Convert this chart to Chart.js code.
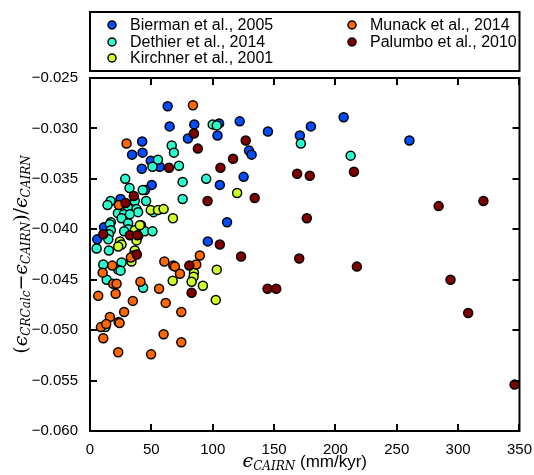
<!DOCTYPE html>
<html>
<head>
<meta charset="utf-8">
<script src="https://cdn.jsdelivr.net/npm/chart.js@4.4.1/dist/chart.umd.min.js"></script>
<style>
  html, body { margin: 0; padding: 0; background: #fff; }
  #wrap { width: 534px; height: 475px; }
</style>
</head>
<body>
<div id="wrap"><canvas id="chart" width="534" height="475"></canvas></div>
<script>
/* Values: erosion rate (mm/kyr) and relative difference. */
const biermanX = [63.3, 64.9, 85.0, 105.2, 122.0, 103.9, 79.8, 42.5, 34.3, 42.8, 129.6, 131.7, 49.5, 42.2,
  56.8, 125.2, 50.3, 44.9, 105.8, 24.9, 11.4, 5.9, 111.7, 96.0, 145.0, 171.0, 180.0, 206.7, 260.3]
const biermanY = [-0.0278, -0.0298, -0.0296, -0.0295, -0.0293, -0.0307, -0.0310, -0.0313, -0.0326, -0.0324,
  -0.0322, -0.0326, -0.0332, -0.0340, -0.0338, -0.0348, -0.0356, -0.0361, -0.0356, -0.0370, -0.0398, -0.0410,
  -0.0393, -0.0412, -0.0303, -0.0307, -0.0298, -0.0289, -0.0312]

const dethierX = [100.0, 103.3, 66.6, 68.4, 55.4, 50.9, 72.5, 28.7, 75.5, 94.7, 32.2, 43.0, 75.5, 45.7, 16.8,
  36.5, 14.3, 171.8, 212.4, 25.2, 31.1, 37.9, 39.2, 22.7, 27.6, 32.5, 25.7, 51.7, 17.0, 16.2, 31.1, 41.6,
  31.1, 27.8, 17.0, 15.4, 14.9, 44.6, 50.9, 5.4, 15.4, 10.8, 25.7, 23.0, 24.9, 13.6, 43.3, 12.5]
const dethierY = [-0.0296, -0.0297, -0.0317, -0.0324, -0.0331, -0.0338, -0.0337, -0.0350, -0.0353, -0.0350,
  -0.0359, -0.0361, -0.0370, -0.0372, -0.0372, -0.0372, -0.0376, -0.0315, -0.0327, -0.0380, -0.0379, -0.0380,
  -0.0383, -0.0384, -0.0385, -0.0385, -0.0389, -0.0383, -0.0393, -0.0395, -0.0394, -0.0396, -0.0400, -0.0402,
  -0.0401, -0.0405, -0.0410, -0.0402, -0.0402, -0.0419, -0.0421, -0.0435, -0.0433, -0.0440, -0.0441, -0.0450,
  -0.0458, -0.0497]

const kirchnerX = [119.9, 49.5, 55.4, 60.0, 67.6, 36.5, 24.4, 25.7, 23.0, 39.2, 37.9, 36.5, 35.2, 33.8, 40.6,
  103.3, 84.7, 84.4, 82.8, 67.4, 92.0, 102.5]
const kirchnerY = [-0.0364, -0.0381, -0.0381, -0.0380, -0.0389, -0.0401, -0.0412, -0.0415, -0.0417, -0.0407,
  -0.0411, -0.0421, -0.0426, -0.0432, -0.0396, -0.0440, -0.0443, -0.0447, -0.0452, -0.0451, -0.0456, -0.0470]

const munackX = [83.9, 29.8, 23.5, 89.5, 60.6, 67.9, 69.2, 86.6, 73.3, 33.3, 18.1, 10.3, 18.9, 21.7, 41.1,
  56.3, 6.7, 20.9, 34.9, 61.7, 27.8, 16.2, 74.4, 8.9, 13.2, 23.3, 24.1, 10.8, 23.0, 49.8, 60.0, 74.4]
const munackY = [-0.0277, -0.0315, -0.0376, -0.0426, -0.0432, -0.0436, -0.0437, -0.0435, -0.0444, -0.0428,
  -0.0436, -0.0443, -0.0454, -0.0454, -0.0452, -0.0459, -0.0466, -0.0464, -0.0471, -0.0473, -0.0482, -0.0487,
  -0.0482, -0.0497, -0.0494, -0.0492, -0.0493, -0.0508, -0.0522, -0.0524, -0.0504, -0.0512]

const palumboX = [84.7, 126.9, 87.9, 116.6, 64.4, 106.3, 134.2, 35.7, 95.8, 29.0, 10.8, 32.5, 38.7, 38.2,
  105.8, 123.1, 80.9, 82.8, 168.8, 179.1, 215.1, 176.7, 170.5, 217.5, 144.7, 151.8, 284.1, 320.6, 293.8,
  308.2, 346.0]
const palumboY = [-0.0305, -0.0312, -0.0320, -0.0330, -0.0339, -0.0339, -0.0369, -0.0367, -0.0372, -0.0374,
  -0.0405, -0.0406, -0.0406, -0.0425, -0.0415, -0.0427, -0.0436, -0.0463, -0.0345, -0.0347, -0.0343, -0.0389,
  -0.0429, -0.0437, -0.0459, -0.0459, -0.0377, -0.0372, -0.0450, -0.0483, -0.0554]

const seriesNames = ["Bierman et al., 2005", "Dethier et al., 2014", "Kirchner et al., 2001",
  "Munack et al., 2014", "Palumbo et al., 2010"]
const seriesColors = ["rgb(0, 77, 255)", "rgb(41, 255, 206)", "rgb(206, 255, 41)",
  "rgb(255, 104, 0)", "rgb(128, 0, 0)"]

const xTicks = [0, 50, 100, 150, 200, 250, 300, 350]
const yTicks = [-0.060, -0.055, -0.050, -0.045, -0.040, -0.035, -0.030, -0.025]

const toPoints = (xs, ys) => xs.map((x, i) => ({ x: x, y: ys[i] }))
const allX = [biermanX, dethierX, kirchnerX, munackX, palumboX]
const allY = [biermanY, dethierY, kirchnerY, munackY, palumboY]

const sansFont = "'Liberation Sans', Arial, sans-serif"
const serifFont = "'DejaVu Serif', serif"

/* Draw a line of mixed-font text centred on (cx, cy), optionally rotated. */
const drawRich = (ctx, parts, cx, cy, rotate) => {
  ctx.save()
  ctx.translate(cx, cy)
  if (rotate) ctx.rotate(-Math.PI / 2)
  let total = 0
  parts.forEach(p => {
    ctx.font = p.f
    p.w = ctx.measureText(p.t).width
    total += p.w
  })
  let x = -total / 2
  ctx.fillStyle = "#000"
  ctx.textBaseline = "middle"
  ctx.textAlign = "left"
  parts.forEach(p => {
    ctx.font = p.f
    ctx.fillText(p.t, x, p.dy || 0)
    x += p.w
  })
  ctx.restore()
}

const framePlugin = {
  id: "frame",
  afterDraw(chart) {
    const ctx = chart.ctx
    const a = chart.chartArea
    const xs = chart.scales.x
    const ys = chart.scales.y

    /* Box and inward ticks. */
    ctx.save()
    ctx.strokeStyle = "#000"
    ctx.lineWidth = 2
    ctx.strokeRect(a.left, a.top, a.right - a.left, a.bottom - a.top)
    ctx.beginPath()
    xTicks.forEach(v => {
      const px = Math.round(xs.getPixelForValue(v))
      ctx.moveTo(px, a.bottom); ctx.lineTo(px, a.bottom - 7)
      ctx.moveTo(px, a.top); ctx.lineTo(px, a.top + 7)
    })
    yTicks.forEach(v => {
      const py = Math.round(ys.getPixelForValue(v))
      ctx.moveTo(a.left, py); ctx.lineTo(a.left + 7, py)
      ctx.moveTo(a.right, py); ctx.lineTo(a.right - 7, py)
    })
    ctx.stroke()

    /* Legend in two columns. */
    ctx.lineWidth = 2
    ctx.strokeRect(a.left, 12, a.right - a.left, 59)
    const cols = [112, 352]
    const rows = [25, 42, 58]
    ctx.font = "16px " + sansFont
    ctx.textBaseline = "middle"
    ctx.textAlign = "left"
    seriesNames.forEach((name, i) => {
      const cx = cols[i < 3 ? 0 : 1]
      const cy = rows[i < 3 ? i : i - 3]
      ctx.beginPath()
      ctx.arc(cx, cy, 4, 0, Math.PI * 2)
      ctx.fillStyle = seriesColors[i]
      ctx.fill()
      ctx.lineWidth = 1.5
      ctx.stroke()
      ctx.fillStyle = "#000"
      ctx.fillText(name, cx + 18, cy + 1)
    })
    ctx.restore()

    /* Axis titles with subscripts. */
    const big = "italic 19px " + serifFont
    const sub = "italic 12px " + serifFont
    const up = "19px " + serifFont
    drawRich(ctx, [
      { t: "ϵ", f: big },
      { t: "CAIRN", f: sub, dy: 5 },
      { t: " (mm/kyr)", f: "17px " + sansFont }
    ], (a.left + a.right) / 2, 462, false)
    drawRich(ctx, [
      { t: "(", f: up },
      { t: "ϵ", f: big },
      { t: "CRCalc", f: sub, dy: 5 },
      { t: "−", f: up },
      { t: "ϵ", f: big },
      { t: "CAIRN", f: sub, dy: 5 },
      { t: ")/", f: up },
      { t: "ϵ", f: big },
      { t: "CAIRN", f: sub, dy: 5 }
    ], 22, (a.top + a.bottom) / 2, true)
  }
}

const ctx = document.getElementById("chart").getContext("2d")
const chart = new Chart(ctx, {
  type: "scatter",
  data: {
    datasets: seriesNames.map((name, i) => ({
      label: name,
      data: toPoints(allX[i], allY[i]),
      backgroundColor: seriesColors[i],
      borderColor: "#000",
      borderWidth: 1.5,
      pointRadius: 4.5,
      pointHoverRadius: 4.5,
      order: 5 - i
    }))
  },
  options: {
    responsive: false,
    animation: false,
    events: [],
    layout: { padding: { left: 0, top: 78, right: 13, bottom: 0 } },
    plugins: {
      legend: { display: false },
      tooltip: { enabled: false }
    },
    scales: {
      x: {
        type: "linear",
        min: 0,
        max: 350,
        afterBuildTicks: s => { s.ticks = xTicks.map(v => ({ value: v })) },
        afterFit: s => { s.height = 44 },
        grid: { display: false },
        border: { display: false },
        ticks: {
          color: "#000",
          font: { family: sansFont, size: 15 },
          padding: 2,
          maxRotation: 0,
          callback: v => String(v)
        }
      },
      y: {
        type: "linear",
        min: -0.060,
        max: -0.025,
        afterBuildTicks: s => { s.ticks = yTicks.map(v => ({ value: v })) },
        afterFit: s => { s.width = 90 },
        grid: { display: false },
        border: { display: false },
        ticks: {
          color: "#000",
          font: { family: sansFont, size: 15 },
          padding: 4,
          callback: v => "−" + Math.abs(v).toFixed(3)
        }
      }
    }
  },
  plugins: [framePlugin]
})
</script>
</body>
</html>
